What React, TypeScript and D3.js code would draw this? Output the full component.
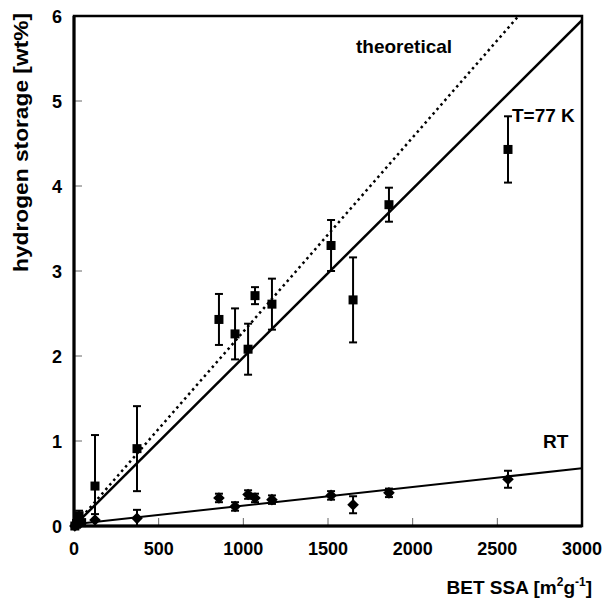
import React from "react";
import * as d3 from "d3";

const xTicks = [0, 500, 1000, 1500, 2000, 2500, 3000];
const yTicks = [0, 1, 2, 3, 4, 5, 6];

// T = 77 K data (squares)
const ssa77 = [5, 15, 30, 45, 124, 372, 856, 951, 1028, 1069, 1169, 1518, 1648, 1860, 2563];
const h77 = [0.0, 0.03, 0.12, 0.04, 0.47, 0.91, 2.43, 2.26, 2.08, 2.71, 2.61, 3.3, 2.66, 3.78, 4.43];
const err77 = [0.02, 0.03, 0.06, 0.03, 0.6, 0.5, 0.3, 0.3, 0.3, 0.1, 0.3, 0.3, 0.5, 0.2, 0.39];

// RT data (diamonds)
const ssaRT = [5, 20, 35, 124, 372, 856, 951, 1028, 1069, 1169, 1518, 1648, 1860, 2563];
const hRT = [0.0, 0.02, 0.03, 0.07, 0.09, 0.33, 0.23, 0.37, 0.33, 0.31, 0.36, 0.25, 0.39, 0.55];
const errRT = [0.02, 0.02, 0.02, 0.07, 0.1, 0.05, 0.05, 0.05, 0.05, 0.05, 0.05, 0.1, 0.05, 0.1];

// fit lines [x0, y0, x1, y1]
const line77 = [0, 0, 3000, 5.95];
const lineTheo = [0, 0, 2625, 6];
const lineRT = [0, 0.02, 3000, 0.68];

const W = 604;
const H = 604;
const left = 74;
const right = 582;
const top = 16;
const bottom = 526;
const FONT = "'Liberation Sans', Arial, sans-serif";

export default function App() {
  const x = d3.scaleLinear().domain([0, 3000]).range([left, right]);
  const y = d3.scaleLinear().domain([0, 6]).range([bottom, top]);
  const ln = d3.line<number[]>().x((d) => x(d[0])).y((d) => y(d[1]));
  const seg = (l: number[]) => ln([[l[0], l[1]], [l[2], l[3]]]) || "";
  const clipY = (v: number) => Math.max(0, Math.min(6, v));
  const cap = 4;

  const errBar = (xv: number, yv: number, e: number, key: string) => {
    const lo = clipY(yv - e);
    const hi = clipY(yv + e);
    const px = x(xv);
    return (
      <g key={key} stroke="#000" strokeWidth={2}>
        <line x1={px} x2={px} y1={y(lo)} y2={y(hi)} />
        {yv - e > 0 && <line x1={px - cap} x2={px + cap} y1={y(lo)} y2={y(lo)} />}
        <line x1={px - cap} x2={px + cap} y1={y(hi)} y2={y(hi)} />
      </g>
    );
  };

  const sq = 9;
  const dm = 5.8;

  return (
    <svg width={W} height={H} style={{ position: "absolute", left: 0, top: 0, background: "#fff" }}>
      <rect x={0} y={0} width={W} height={H} fill="#fff" />
      <defs>
        <clipPath id="plot">
          <rect x={left} y={top} width={right - left} height={bottom - top} />
        </clipPath>
      </defs>

      {/* ticks inside */}
      {xTicks.slice(1, -1).map((t) => (
        <line key={"xt" + t} x1={x(t)} x2={x(t)} y1={bottom} y2={bottom - 8} stroke="#666" strokeWidth={1} />
      ))}
      {yTicks.slice(1, -1).map((t) => (
        <line key={"yt" + t} x1={left} x2={left + 8} y1={y(t)} y2={y(t)} stroke="#666" strokeWidth={1} />
      ))}

      {/* lines */}
      <g clipPath="url(#plot)" fill="none" stroke="#000">
        <path d={seg(lineTheo)} strokeWidth={2.5} strokeDasharray="2.5 3.5" />
        <path d={seg(line77)} strokeWidth={2.5} />
        <path d={seg(lineRT)} strokeWidth={2} />
      </g>

      {/* error bars */}
      {ssa77.map((v, i) => errBar(v, h77[i], err77[i], "e77" + i))}
      {ssaRT.map((v, i) => errBar(v, hRT[i], errRT[i], "eRT" + i))}

      {/* markers */}
      {ssa77.map((v, i) => (
        <rect key={"s" + i} x={x(v) - sq / 2} y={y(h77[i]) - sq / 2} width={sq} height={sq} fill="#000" />
      ))}
      {ssaRT.map((v, i) => {
        const cx = x(v);
        const cy = y(hRT[i]);
        return (
          <path
            key={"d" + i}
            d={`M${cx},${cy - dm} L${cx + dm},${cy} L${cx},${cy + dm} L${cx - dm},${cy} Z`}
            fill="#000"
          />
        );
      })}

      {/* frame */}
      <rect x={left} y={top} width={right - left} height={bottom - top} fill="none" stroke="#000" strokeWidth={2.5} />
      <line x1={left} x2={right} y1={bottom} y2={bottom} stroke="#000" strokeWidth={3} />
      <line x1={left} x2={left} y1={top} y2={bottom} stroke="#000" strokeWidth={3} />

      {/* tick labels */}
      {xTicks.map((t) => (
        <text key={"xl" + t} x={x(t)} y={555} textAnchor="middle" fontFamily={FONT} fontWeight="bold" fontSize={18}>
          {t}
        </text>
      ))}
      {yTicks.map((t) => (
        <text key={"yl" + t} x={62} y={y(t) + 6.5} textAnchor="end" fontFamily={FONT} fontWeight="bold" fontSize={18}>
          {t}
        </text>
      ))}

      {/* axis titles */}
      <text
        transform={`translate(28,272) rotate(-90)`}
        fontFamily={FONT}
        fontWeight="bold"
        fontSize={20}
        textLength={259}
        lengthAdjust="spacingAndGlyphs"
      >
        hydrogen storage [wt%]
      </text>
      <text x={592} y={594} textAnchor="end" fontFamily={FONT} fontWeight="bold" fontSize={19}>
        BET SSA [m
        <tspan fontSize={12} dy={-8}>2</tspan>
        <tspan dy={8}>g</tspan>
        <tspan fontSize={12} dy={-8}>-1</tspan>
        <tspan dy={8}>]</tspan>
      </text>

      {/* annotations */}
      <text x={356} y={53} fontFamily={FONT} fontWeight="bold" fontSize={19}>theoretical</text>
      <text x={512} y={122} fontFamily={FONT} fontWeight="bold" fontSize={19}>T=77 K</text>
      <text x={543} y={448} fontFamily={FONT} fontWeight="bold" fontSize={19}>RT</text>
    </svg>
  );
}
